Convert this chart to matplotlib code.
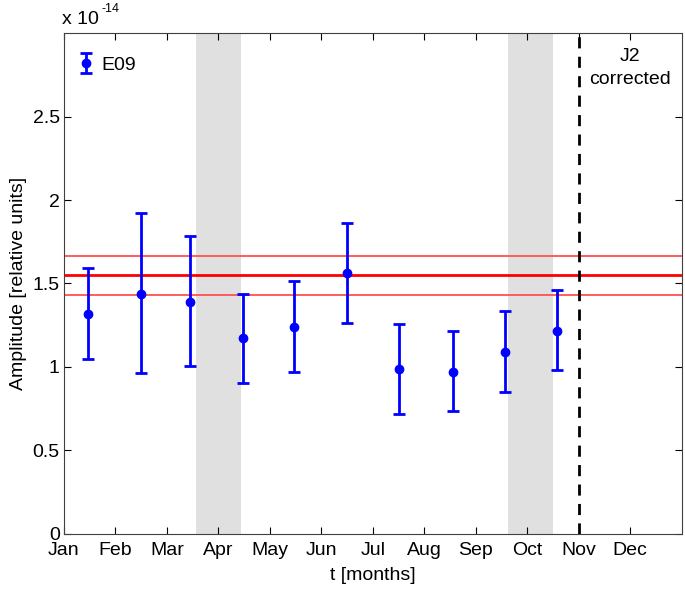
import matplotlib
matplotlib.use('Agg')
import matplotlib.pyplot as plt

plt.rcParams['font.family'] = ['Liberation Sans', 'DejaVu Sans']

months = ['Jan', 'Feb', 'Mar', 'Apr', 'May', 'Jun', 'Jul', 'Aug', 'Sep', 'Oct', 'Nov', 'Dec']
t = [0.46, 1.50, 2.44, 3.47, 4.46, 5.50, 6.51, 7.55, 8.57, 9.57]
amp = [1.315, 1.434, 1.389, 1.171, 1.237, 1.560, 0.986, 0.966, 1.086, 1.217]
amp_lo = [1.048, 0.964, 1.004, 0.904, 0.970, 1.261, 0.719, 0.733, 0.850, 0.982]
amp_hi = [1.590, 1.921, 1.783, 1.438, 1.514, 1.861, 1.259, 1.213, 1.333, 1.460]
mean_amp = 1.550
mean_band = [1.428, 1.666]
shaded = [(2.57, 3.44), (8.63, 9.50)]
j2_start = 10.0

fig = plt.figure(figsize=(6.85, 5.89), dpi=100)
ax = fig.add_axes([0.0934, 0.0942, 0.9016, 0.8493])

for a, b in shaded:
    ax.axvspan(a, b, color='#e0e0e0', lw=0, zorder=0)

ax.axhline(mean_amp, color='#ff0000', lw=2, zorder=1)
for v in mean_band:
    ax.axhline(v, color='#ff5050', lw=1.3, zorder=1)

ax.axvline(j2_start, color='black', lw=2, ls=(0, (4, 3)), zorder=2)

yerr = [[a - l for a, l in zip(amp, amp_lo)], [h - a for a, h in zip(amp, amp_hi)]]
ax.errorbar(t, amp, yerr=yerr, fmt='o', color='#0000ff', ms=6, lw=2,
            capsize=4.5, capthick=2, label='E09', zorder=3)

ax.set_xlim(0, 12)
ax.set_ylim(0, 3)
ax.set_xticks(range(12))
ax.set_xticklabels(months)
ax.set_yticks([0, 0.5, 1, 1.5, 2, 2.5])
ax.set_yticklabels(['0', '0.5', '1', '1.5', '2', '2.5'])
ax.tick_params(direction='in', top=True, right=True, labelsize=14, length=5)
ax.tick_params(axis='x', pad=6)
ax.tick_params(axis='y', pad=3)
for s in ax.spines.values():
    s.set_color('#404040')

ax.set_xlabel('t [months]', fontsize=14, labelpad=6)
ax.set_ylabel('Amplitude [relative units]', fontsize=14, labelpad=4)

# multiplier in the MATLAB style
fig.text(62 / 685, 1 - 28 / 589, 'x 10', fontsize=14, ha='left', va='bottom')
fig.text(101 / 685, 1 - 15 / 589, '-14', fontsize=9, ha='left', va='bottom')
ax.text(11.0, 2.86, 'J2', fontsize=14, ha='center', va='center')
ax.text(11.0, 2.72, 'corrected', fontsize=14, ha='center', va='center')

ax.legend(loc='upper left', bbox_to_anchor=(0.013, 0.962), frameon=False,
          fontsize=14, handlelength=1.0, borderaxespad=0.0,
          handletextpad=0.3, borderpad=0.2)

fig.savefig('out.png', dpi=100)
